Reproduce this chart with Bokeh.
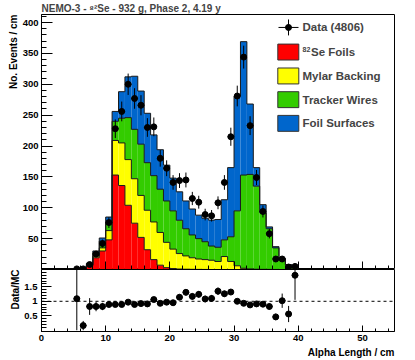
import numpy as np
from bokeh.plotting import figure
from bokeh.models import (Range1d, Label, SingleIntervalTicker, FixedTicker, Span, Title)
from bokeh.layouts import column
from bokeh.embed import file_html
from bokeh.resources import INLINE

# ---------------- data ----------------
bin_low = list(range(4, 40))          # 1 cm bins, lower edges 4 .. 39
bin_width = 1.0

se_foils = [0.2, 0.6, 2, 6, 19, 30, 48, 153, 136, 104, 75, 52, 32, 16, 7, 3, 1.5, 0.8,
            0.5, 0.3, 0.2, 0.1, 0, 0, 0, 0, 0, 0, 0, 0, 0, 0, 0, 0, 0, 0]
mylar = [0.1, 0.2, 0.5, 1, 3, 5, 15, 56, 69, 74, 72, 68, 64, 61, 53, 41, 31.5, 25,
         21.5, 18.7, 16.8, 15.9, 15, 13, 21, 13, 6, 2, 1, 0.5, 0.3, 0.2, 0.1, 0, 0, 0]
wires = [0, 0, 0.2, 1.5, 5, 11, 13, 31, 40, 68, 80, 83, 77, 75, 70, 67, 62, 54,
         44, 37, 33, 29, 23, 23, 27, 40, 89, 151, 153, 134.5, 91.7, 65.8, 34.9, 17, 7, 2.5]
surfaces = [0, 0.1, 0.8, 1.5, 3, 5, 9, 16, 43, 66, 86, 86, 80, 66, 64, 58, 53, 46,
            45, 42, 38, 38, 42, 45, 65, 112, 186, 216, 114, 30, 13, 3, 2, 1, 1, 0.5]

data_x = [5.5, 6.5, 7.5, 8.5, 9.5, 10.5, 11.5, 12.5, 13.5, 14.5, 15.5, 16.5, 17.5, 18.5,
          19.5, 20.5, 21.5, 22.5, 23.5, 24.5, 25.5, 26.5, 27.5, 28.5, 29.5, 30.5, 31.5,
          32.5, 33.5, 34.5, 35.5, 36.5, 37.5, 38.5, 39.5]
data_n = [1, 1, 8, 25, 42, 76, 228, 256, 300, 277, 266, 230, 231, 180, 164, 141, 144,
          145, 115, 109, 89, 87, 108, 141, 215, 281, 344, 233, 149, 94, 58, 17, 17, 4, 5]
ratio = [1.09, 0.16, 0.82, 0.82, 0.82, 0.89, 0.89, 0.89, 0.97, 0.89, 0.92, 0.91, 1.06,
         0.93, 0.97, 0.95, 1.14, 1.31, 1.17, 1.24, 1.08, 1.10, 1.35, 1.26, 1.32, 1.00,
         0.93, 0.875, 0.91, 0.90, 0.82, 0.46, 1.02, 0.56, 1.90]

components = ["82Se Foils", "Mylar Backing", "Tracker Wires", "Foil Surfaces"]
colors = ["#ff0000", "#ffff00", "#33cc00", "#0066cc"]
data_label = "Data (4806)"
main_title = "NEMO-3 - \u2078\u00b2Se - 932 g, Phase 2, 4.19 y"
x_title = "Alpha Length / cm"
y_title = "No. Events / cm"
ratio_title = "Data/MC"
main_y_ticks = [50, 100, 150, 200, 250, 300, 350, 400]
ratio_ticks = [0.5, 1.0, 1.5]
ratio_reference = 1.0

X_RANGE = (0, 55)
Y_RANGE = (0, 413)
R_RANGE = (-0.045, 2.1)

FONT = "Liberation Sans"

# ---------------- helpers mapping reference pixel spots ----------------
def main_x(px):
    return (px - 41) / 353.0 * 55.0

def main_y(py):
    return (269 - py) / 256.0 * 413.0

W = 412
LEFT, RIGHT = 41, W - 394

def style_axes(p):
    for ax in list(p.xaxis) + list(p.yaxis):
        ax.axis_line_color = "black"
        ax.major_tick_line_color = "black"
        ax.minor_tick_line_color = "black"
        ax.major_tick_out = 0
        ax.minor_tick_out = 0
        ax.major_label_text_font = FONT
        ax.major_label_text_font_style = "bold"
        ax.major_label_text_font_size = "9.5px"
        ax.major_label_text_color = "black"
    p.grid.visible = False
    p.outline_line_color = "black"
    p.outline_line_width = 1
    p.background_fill_color = "white"
    p.border_fill_color = "white"

def side_title(text, align):
    return Title(text=text, align=align, text_font=FONT, text_font_style="bold",
                 text_font_size="10px", text_color="black", standoff=2)

# ---------------- main panel ----------------
p1 = figure(width=W, height=269, x_range=Range1d(*X_RANGE), y_range=Range1d(*Y_RANGE),
            output_backend="svg", toolbar_location=None, title=main_title,
            min_border_left=LEFT, min_border_right=RIGHT, min_border_top=13,
            min_border_bottom=0)
p1.title.align = "left"
p1.title.text_font = FONT
p1.title.text_font_style = "bold"
p1.title.text_font_size = "10px"
p1.title.standoff = 1
p1.title.offset = 0
style_axes(p1)
p1.xaxis.ticker = SingleIntervalTicker(interval=10, num_minor_ticks=5)
p1.xaxis.major_label_text_font_size = "1px"
p1.xaxis.major_label_text_alpha = 0
p1.xaxis.major_label_text_color = None
p1.xaxis.major_label_standoff = 0
p1.xaxis.major_tick_in = 8
p1.xaxis.minor_tick_in = 4
p1.yaxis.ticker = FixedTicker(ticks=main_y_ticks, minor_ticks=list(range(0, 411, 10)))
p1.yaxis.major_tick_in = 11
p1.yaxis.minor_tick_in = 5
p1.yaxis.major_label_standoff = 3
p1.add_layout(side_title(y_title, "right"), "left")

lo = np.array(bin_low, dtype=float)
hi = lo + bin_width
layers = [np.array(v, dtype=float) for v in (se_foils, mylar, wires, surfaces)]
cum = np.cumsum(np.vstack(layers), axis=0)
bottoms = np.vstack([np.zeros_like(lo), cum[:-1]])

for k in range(4):
    p1.quad(left=lo, right=hi, bottom=bottoms[k], top=cum[k],
            fill_color=colors[k], line_color=None)

edges = np.append(lo, hi[-1])
for k in range(4):
    xs = np.concatenate([[edges[0]], np.column_stack([lo, hi]).ravel(), [edges[-1]]])
    ys = np.concatenate([[0], np.repeat(cum[k], 2), [0]])
    p1.line(xs, ys, line_color="#1a1a1a", line_width=1, line_join="miter")

dx = np.array(data_x)
dn = np.array(data_n, dtype=float)
derr = np.sqrt(dn)
p1.segment(x0=dx, x1=dx, y0=dn - derr, y1=dn + derr, line_color="black", line_width=1)
p1.segment(x0=dx - bin_width / 2, x1=dx + bin_width / 2, y0=dn, y1=dn,
           line_color="black", line_width=1)
p1.scatter(dx, dn, size=6, marker="circle", fill_color="black", line_color="black")

# legend
LEG_FONT = "11.5px"
p1.segment(x0=[main_x(278)], x1=[main_x(298)], y0=[main_y(26)], y1=[main_y(26)],
           line_color="black", line_width=1)
p1.segment(x0=[main_x(288)], x1=[main_x(288)], y0=[main_y(18)], y1=[main_y(34)],
           line_color="black", line_width=1)
p1.scatter([main_x(288)], [main_y(26)], size=6, marker="circle",
           fill_color="black", line_color="black")
p1.add_layout(Label(x=main_x(302), y=main_y(26), text=data_label, text_baseline="middle",
                    text_font=FONT, text_font_style="bold", text_font_size=LEG_FONT))
box_tops = [42.7, 66.7, 90.5, 114.3]
for k in range(4):
    p1.quad(left=[main_x(277.3)], right=[main_x(298.3)], top=[main_y(box_tops[k])],
            bottom=[main_y(box_tops[k] + 16)], fill_color=colors[k], line_color="#333333",
            line_width=1)
    name = components[k]
    tx = main_x(302)
    if k == 0:
        p1.add_layout(Label(x=main_x(302), y=main_y(48.5), text=name[:2],
                            text_baseline="alphabetic", text_font=FONT,
                            text_font_style="bold", text_font_size="7px"))
        name = name[2:]
        tx = main_x(310.5)
    p1.add_layout(Label(x=tx, y=main_y(box_tops[k] + 8), text=name, text_baseline="middle",
                        text_font=FONT, text_font_style="bold", text_font_size=LEG_FONT))

# ---------------- ratio panel ----------------
p2 = figure(width=W, height=89, x_range=p1.x_range, y_range=Range1d(*R_RANGE),
            output_backend="svg", toolbar_location=None, title=None,
            min_border_left=LEFT, min_border_right=RIGHT, min_border_top=0,
            min_border_bottom=26)
style_axes(p2)
p2.xaxis.ticker = SingleIntervalTicker(interval=10, num_minor_ticks=5)
p2.xaxis.major_tick_in = 6
p2.xaxis.minor_tick_in = 3
p2.xaxis.major_label_standoff = 3
p2.yaxis.ticker = FixedTicker(ticks=ratio_ticks,
                              minor_ticks=list(np.round(np.arange(0.1, 2.1, 0.1), 2)))
p2.yaxis.major_label_overrides = {0.5: "0.5", 1: "1", 1.5: "1.5"}
p2.yaxis.major_tick_in = 10
p2.yaxis.minor_tick_in = 5
p2.yaxis.major_label_standoff = 4
p2.add_layout(side_title(ratio_title, "right"), "left")
p2.add_layout(side_title(x_title, "right"), "below")

p2.add_layout(Span(location=ratio_reference, dimension="width", line_color="black",
                   line_width=1, line_dash="3 3"))
rr = np.array(ratio)
rerr = rr / np.sqrt(dn)
p2.segment(x0=dx, x1=dx, y0=rr - rerr, y1=rr + rerr, line_color="black", line_width=1)
p2.segment(x0=dx - bin_width / 2, x1=dx + bin_width / 2, y0=rr, y1=rr,
           line_color="black", line_width=1)
p2.scatter(dx, rr, size=6, marker="circle", fill_color="black", line_color="black")

layout = column(p1, p2, spacing=0)
open("out.html", "w").write(file_html(layout, INLINE))
